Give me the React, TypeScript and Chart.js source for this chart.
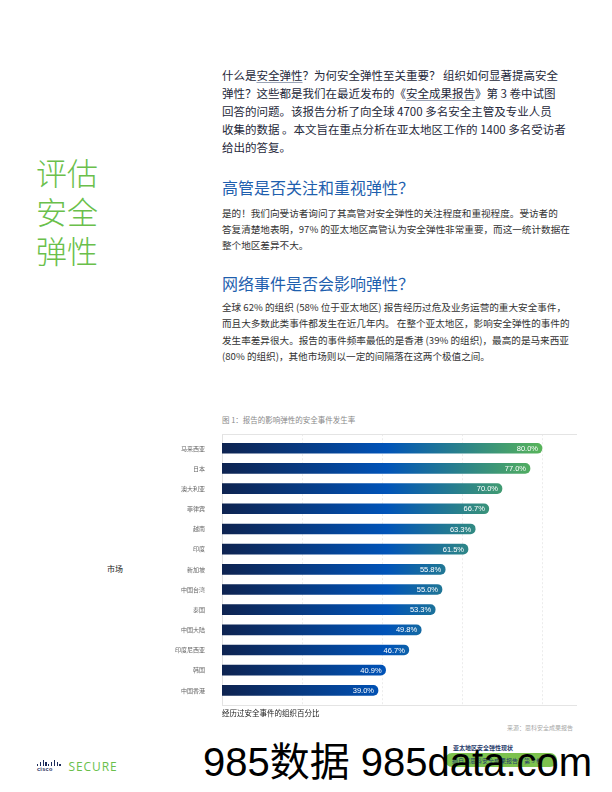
import React, { useEffect, useRef } from "react";
import { Chart, registerables } from "chart.js";

Chart.register(...registerables);

const markets = ["马来西亚", "日本", "澳大利亚", "菲律宾", "越南", "印度", "新加坡", "中国台湾", "泰国", "中国大陆", "印度尼西亚", "韩国", "中国香港"];
const incidentRates = [80.0, 77.0, 70.0, 66.7, 63.3, 61.5, 55.8, 55.0, 53.3, 49.8, 46.7, 40.9, 39.0];
const gridValues = [0, 20, 40, 60, 80];
const xAxisTitle = "经历过安全事件的组织百分比";
const yAxisTitle = "市场";
const figureCaption = "图 1：报告的影响弹性的安全事件发生率";
const sourceText = "来源：思科安全成果报告";

const CJK = '"Noto Sans CJK SC", "Noto Sans", sans-serif';

const gridPlugin = {
  id: "customGrid",
  beforeDatasetsDraw(chart: any) {
    const { ctx, chartArea, scales } = chart;
    const { top, bottom, left, right } = chartArea;
    const x = scales.x;
    const t = top - 4;
    const b = bottom + 4.5;
    ctx.save();
    ctx.lineWidth = 1;
    gridValues.forEach((v) => {
      const px = Math.round(x.getPixelForValue(v)) + 0.5;
      ctx.beginPath();
      if (v === 0) {
        ctx.setLineDash([]);
        ctx.strokeStyle = "#e2e2e2";
      } else {
        ctx.setLineDash([2, 2]);
        ctx.strokeStyle = "#ececec";
      }
      ctx.moveTo(px, t);
      ctx.lineTo(px, b);
      ctx.stroke();
    });
    ctx.setLineDash([]);
    ctx.strokeStyle = "#e4e4e4";
    ctx.beginPath();
    ctx.moveTo(left, Math.round(t) + 0.5);
    ctx.lineTo(right, Math.round(t) + 0.5);
    ctx.moveTo(left, Math.round(b) + 0.5);
    ctx.lineTo(right, Math.round(b) + 0.5);
    ctx.stroke();
    ctx.restore();
  },
};

const labelPlugin = {
  id: "barLabels",
  afterDatasetsDraw(chart: any) {
    const { ctx } = chart;
    const meta = chart.getDatasetMeta(0);
    ctx.save();
    ctx.fillStyle = "#ffffff";
    ctx.font = '7.5px "Liberation Sans", Arial, sans-serif';
    ctx.textAlign = "right";
    ctx.textBaseline = "middle";
    meta.data.forEach((bar: any, i: number) => {
      ctx.fillText(incidentRates[i].toFixed(1) + "%", bar.x - 4, bar.y + 0.5);
    });
    ctx.restore();
  },
};

function BarChart() {
  const ref = useRef<HTMLCanvasElement | null>(null);
  useEffect(() => {
    if (!ref.current) return;
    const chart = new Chart(ref.current, {
      type: "bar",
      data: {
        labels: markets,
        datasets: [
          {
            data: incidentRates,
            barThickness: 10,
            borderRadius: 5,
            borderSkipped: "start",
            backgroundColor: (c: any) => {
              const ch = c.chart;
              if (!ch.chartArea || !ch.scales.x) return "#0050b0";
              const x = ch.scales.x;
              const g = ch.ctx.createLinearGradient(x.getPixelForValue(0), 0, x.getPixelForValue(82), 0);
              g.addColorStop(0, "#0e2350");
              g.addColorStop(0.5, "#0053b8");
              g.addColorStop(1, "#5cb955");
              return g;
            },
          },
        ],
      },
      options: {
        indexAxis: "y",
        animation: false,
        responsive: false,
        devicePixelRatio: 1,
        layout: { padding: { top: 8.2, right: 13, left: 0, bottom: 0 } },
        plugins: { legend: { display: false }, tooltip: { enabled: false } },
        scales: {
          x: {
            min: 0,
            max: 88.75,
            grid: { display: false, drawTicks: false, tickLength: 0 },
            border: { display: false },
            ticks: { display: false, padding: 0 },
            title: {
              display: true,
              text: xAxisTitle,
              align: "start",
              color: "#222",
              font: { family: CJK, size: 7.5 },
              padding: { top: 8.1, bottom: 2.5 },
            },
            afterFit: (s: any) => {
              s.paddingLeft = 0;
              s.paddingRight = 0;
            },
          },
          y: {
            grid: { display: false, drawTicks: false, tickLength: 0 },
            border: { display: false },
            ticks: { color: "#666", font: { family: CJK, size: 6 }, padding: 17 },
            afterFit: (s: any) => {
              s.width = 122;
              s.paddingTop = 0;
              s.paddingBottom = 0;
            },
          },
        },
      },
      plugins: [gridPlugin, labelPlugin],
    } as any);
    return () => chart.destroy();
  }, []);
  return (
    <canvas
      ref={ref}
      width={490}
      height={290}
      style={{ position: "absolute", left: 100, top: 430, width: 490, height: 290 }}
    />
  );
}

const abs = (o: React.CSSProperties): React.CSSProperties => ({ position: "absolute", margin: 0, whiteSpace: "nowrap", ...o });

export default function App() {
  const ul: React.CSSProperties = { textDecoration: "underline", textDecorationColor: "#9aa3b5", textUnderlineOffset: "2px" };
  const ciscoBars = [2, 4, 6, 4, 2, 4, 6, 4, 2];
  return (
    <div style={{ position: "absolute", left: 0, top: 0, width: 612, height: 792, background: "#fff", overflow: "hidden", fontFamily: CJK }}>
      {/* big green title */}
      <div style={abs({ left: 36, top: 151.5, fontSize: 31, lineHeight: "39px", color: "#6abf4b", fontWeight: 300 })}>
        评估<br />安全<br />弹性
      </div>

      {/* intro paragraph */}
      <div style={abs({ left: 222, top: 66, fontSize: 11.5, lineHeight: "18px", color: "#25283a" })}>
        什么是<span style={ul}>安全弹性</span>？为何安全弹性至关重要？ 组织如何显著提高安全<br />
        弹性？这些都是我们在最近发布的《<span style={ul}>安全成果报告</span>》第 3 卷中试图<br />
        回答的问题。该报告分析了向全球 4700 多名安全主管及专业人员<br />
        收集的数据 。本文旨在重点分析在亚太地区工作的 1400 多名受访者<br />
        给出的答复。
      </div>

      <div style={abs({ left: 222, top: 176.7, fontSize: 16, lineHeight: "20px", color: "#1f5fae" })}>
        高管是否关注和重视弹性？
      </div>
      <div style={abs({ left: 222, top: 205.3, fontSize: 9.6, lineHeight: "16px", color: "#333" })}>
        是的！我们向受访者询问了其高管对安全弹性的关注程度和重视程度。受访者的<br />
        答复清楚地表明，97% 的亚太地区高管认为安全弹性非常重要，而这一统计数据在<br />
        整个地区差异不大。
      </div>

      <div style={abs({ left: 222, top: 272.7, fontSize: 16, lineHeight: "20px", color: "#1f5fae" })}>
        网络事件是否会影响弹性？
      </div>
      <div style={abs({ left: 222, top: 299, fontSize: 9.6, lineHeight: "16.3px", color: "#333" })}>
        全球 62% 的组织 (58% 位于亚太地区) 报告经历过危及业务运营的重大安全事件，<br />
        而且大多数此类事件都发生在近几年内。 在整个亚太地区，影响安全弹性的事件的<br />
        发生率差异很大。报告的事件频率最低的是香港 (39% 的组织)，最高的是马来西亚<br />
        (80% 的组织)，其他市场则以一定的间隔落在这两个极值之间。
      </div>

      {/* chart */}
      <div style={abs({ left: 222, top: 415, fontSize: 7.5, lineHeight: "10px", color: "#8a8a8a" })}>{figureCaption}</div>
      <div style={abs({ left: 107, top: 564, fontSize: 8, lineHeight: "10px", color: "#222" })}>{yAxisTitle}</div>
      <BarChart />
      <div style={abs({ right: 612 - 573, top: 723.3, fontSize: 6, lineHeight: "10px", color: "#a8a8a8" })}>{sourceText}</div>

      {/* bottom right link */}
      <div style={abs({ left: 453, top: 742.5, fontSize: 6, lineHeight: "9px", color: "#1f3a6a", fontWeight: 700 })}>亚太地区安全弹性现状</div>
      <div style={abs({ left: 445, top: 753, width: 112, height: 14, borderRadius: 7, background: "#7dc24e" })} />
      <div style={abs({ left: 452, top: 755.5, fontSize: 6, lineHeight: "9px", color: "#1f3a6a" })}>摘自《思科安全成果报告》第 3 卷</div>

      {/* cisco logo */}
      <div style={abs({ left: 37, top: 758, width: 24, height: 8 })}>
        {ciscoBars.map((h, i) => (
          <div key={i} style={{ position: "absolute", left: i * 2.8, bottom: 0, width: 1.3, height: h, background: "#1d2c5a" }} />
        ))}
      </div>
      <div style={abs({ left: 37, top: 765.5, fontSize: 5.5, lineHeight: "7px", color: "#1d2c5a", fontWeight: 700, fontFamily: '"Liberation Sans", Arial, sans-serif', letterSpacing: 0.3 })}>cisco</div>
      <div style={abs({ left: 68.5, top: 759, fontSize: 12, lineHeight: "16px", color: "#6abf4b", letterSpacing: 0.9, fontFamily: '"Open Sans", "Noto Sans", sans-serif' })}>SECURE</div>

      {/* watermark */}
      <div style={abs({ left: 203, top: 742, fontSize: 40, lineHeight: "40px", color: "#000", fontFamily: '"Liberation Sans", Arial, "Noto Sans CJK SC", sans-serif' })}>985数据 985data.com</div>
    </div>
  );
}
